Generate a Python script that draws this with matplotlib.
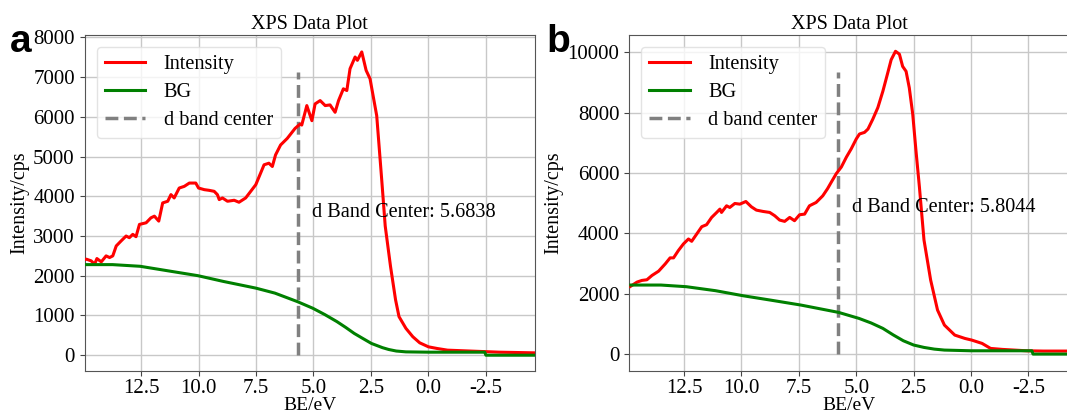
import matplotlib
matplotlib.use("Agg")
import matplotlib.pyplot as plt

plt.rcParams['font.family'] = ['Liberation Serif', 'DejaVu Serif']

# ---- Panel a data ----
a_be = [14.97, 14.88, 14.67, 14.52, 14.42, 14.23, 14.02, 13.87, 13.73, 13.58, 13.37, 13.15,
        13.01, 12.86, 12.72, 12.57, 12.28, 12.07, 11.92, 11.73, 11.56, 11.34, 11.20, 11.06,
        10.84, 10.62, 10.40, 10.12, 10.00, 9.75, 9.54, 9.32, 9.18, 9.10, 8.96, 8.74, 8.45,
        8.24, 7.95, 7.73, 7.51, 7.30, 7.15, 6.94, 6.79, 6.65, 6.43, 6.14, 5.80, 5.58, 5.51,
        5.29, 5.07, 4.93, 4.71, 4.49, 4.28, 4.06, 3.91, 3.70, 3.55, 3.41, 3.19, 3.09, 2.90,
        2.71, 2.54, 2.25, 2.03, 1.88, 1.65, 1.43, 1.28, 0.98, 0.68, 0.38, 0.0, -0.38, -0.83,
        -1.58, -2.33, -3.08, -3.83, -4.64]
a_int = [2407, 2417, 2375, 2292, 2433, 2350, 2500, 2458, 2500, 2750, 2875, 3000,
         2958, 3042, 2983, 3292, 3333, 3458, 3500, 3375, 3833, 3875, 4042, 3958,
         4208, 4250, 4333, 4333, 4208, 4167, 4150, 4125, 4042, 3917, 3958, 3875, 3900,
         3850, 3958, 4125, 4292, 4583, 4792, 4833, 4750, 5042, 5292, 5458, 5709, 5819, 5793,
         6283, 5903, 6325, 6409, 6283, 6300, 6114, 6409, 6705, 6662, 7211, 7506, 7422, 7633,
         7169, 6958, 6030, 4400, 3252, 2238, 1394, 971, 676, 465, 312, 211, 169, 127,
         110, 93, 76, 68, 59]
a_bg_be = [14.97, 13.74, 12.54, 11.19, 10.03, 8.93, 7.51, 6.68, 5.71, 5.03, 4.50, 3.98,
           3.60, 3.23, 2.85, 2.48, 2.00, 1.73, 1.40, 0.98, 0.0, -2.45, -2.50, -4.64]
a_bg = [2280, 2280, 2238, 2111, 2002, 1858, 1689, 1563, 1351, 1182, 1020, 845,
        700, 549, 420, 296, 190, 144, 105, 84, 76, 76, 0, 0]
a_center = 5.6838

# ---- Panel b data ----
b_be = [14.84, 14.55, 14.34, 14.12, 13.90, 13.61, 13.32, 13.11, 12.96, 12.75, 12.53, 12.31,
        12.17, 11.95, 11.73, 11.52, 11.30, 11.08, 10.94, 10.87, 10.65, 10.51, 10.29, 10.07,
        9.81, 9.57, 9.35, 9.06, 8.77, 8.55, 8.34, 8.12, 7.90, 7.69, 7.47, 7.25, 7.04, 6.75,
        6.46, 6.25, 6.08, 5.87, 5.65, 5.43, 5.22, 5.00, 4.86, 4.64, 4.49, 4.28, 4.06, 3.84,
        3.63, 3.48, 3.29, 3.12, 2.98, 2.83, 2.69, 2.54, 2.40, 2.25, 2.05, 1.76, 1.46, 1.16,
        0.71, 0.27, -0.03, -0.48, -0.85, -1.37, -2.41, -3.15, -4.80]
b_int = [2242, 2385, 2440, 2462, 2604, 2747, 2989, 3187, 3187, 3429, 3648, 3813,
         3736, 3978, 4220, 4286, 4527, 4692, 4802, 4692, 4912, 4857, 4989, 4967,
         5055, 4879, 4769, 4725, 4692, 4582, 4440, 4396, 4527, 4418, 4615, 4637, 4912, 5022,
         5242, 5480, 5705, 5978, 6197, 6525, 6798, 7126, 7290, 7344, 7454, 7781, 8164, 8710,
         9311, 9749, 10030, 9934, 9530, 9366, 8820, 7945, 6743, 5541, 3779, 2453, 1459, 961,
         630, 519, 464, 354, 188, 155, 110, 100, 100]
b_bg_be = [14.82, 13.51, 12.40, 11.13, 9.94, 8.75, 7.41, 5.77, 4.88, 4.35, 3.84, 3.40,
           2.95, 2.50, 2.05, 1.60, 1.16, 0.0, -2.65, -2.70, -4.80]
b_bg = [2287, 2287, 2232, 2100, 1934, 1790, 1624, 1381, 1182, 1030, 851, 640,
        442, 300, 221, 165, 133, 110, 110, 0, 0]
b_center = 5.8044

xticks = [12.5, 10.0, 7.5, 5.0, 2.5, 0.0, -2.5]
xticklabels = ['12.5', '10.0', '7.5', '5.0', '2.5', '0.0', '-2.5']

fig = plt.figure(figsize=(10.67, 4.16), dpi=100)
ax1 = fig.add_axes([0.0792, 0.1089, 0.4222, 0.8070])
ax2 = fig.add_axes([0.5895, 0.1089, 0.4133, 0.8070])

panels = [
    (ax1, a_be, a_int, a_bg_be, a_bg, a_center, (14.96, -4.635), (-390, 8060),
     [0, 1000, 2000, 3000, 4000, 5000, 6000, 7000, 8000], 7130, 3600),
    (ax2, b_be, b_int, b_bg_be, b_bg, b_center, (14.9, -4.31), (-550, 10570),
     [0, 2000, 4000, 6000, 8000, 10000], 9357, 4860),
]

for ax, be, inten, bgx, bg, center, xl, yl, yt, vtop, ty in panels:
    ax.plot(be, inten, color='red', lw=2.2, label='Intensity', zorder=3)
    ax.plot(bgx, bg, color='green', lw=2.2, label='BG', zorder=3)
    ax.vlines(center, 0, vtop, colors='gray', linestyles='--', lw=2.5,
              label='d band center', zorder=2)
    ax.text(center - 0.6, ty, f'd Band Center: {center:.4f}',
            fontsize=14.6, va='center', ha='left', zorder=4)
    ax.set_xlim(*xl)
    ax.set_ylim(*yl)
    ax.set_xticks(xticks)
    ax.set_xticklabels(xticklabels)
    ax.set_yticks(yt)
    ax.tick_params(labelsize=15, color='#444444')
    ax.tick_params(axis='x', pad=2.5)
    ax.grid(True, color='#c8c8c8', lw=1)
    ax.set_axisbelow(True)
    for s in ax.spines.values():
        s.set_color('#555555')
    ax.set_xlabel('BE/eV', fontsize=14, labelpad=-1)
    ax.set_ylabel('Intensity/cps', fontsize=14.5, labelpad=3)
    ax.set_title('XPS Data Plot', fontsize=14.5, pad=4)
    leg = ax.legend(loc='upper left', fontsize=14.6, framealpha=0.8,
                    borderaxespad=0.6, handlelength=2.0, handletextpad=0.9,
                    labelspacing=0.42)
    leg.get_frame().set_edgecolor('#dddddd')

fig.text(0.009, 0.875, 'a', fontsize=28, fontweight='bold',
         family=['Liberation Sans', 'DejaVu Sans'])
fig.text(0.512, 0.875, 'b', fontsize=28, fontweight='bold',
         family=['Liberation Sans', 'DejaVu Sans'])

fig.savefig('out.png', dpi=100)
